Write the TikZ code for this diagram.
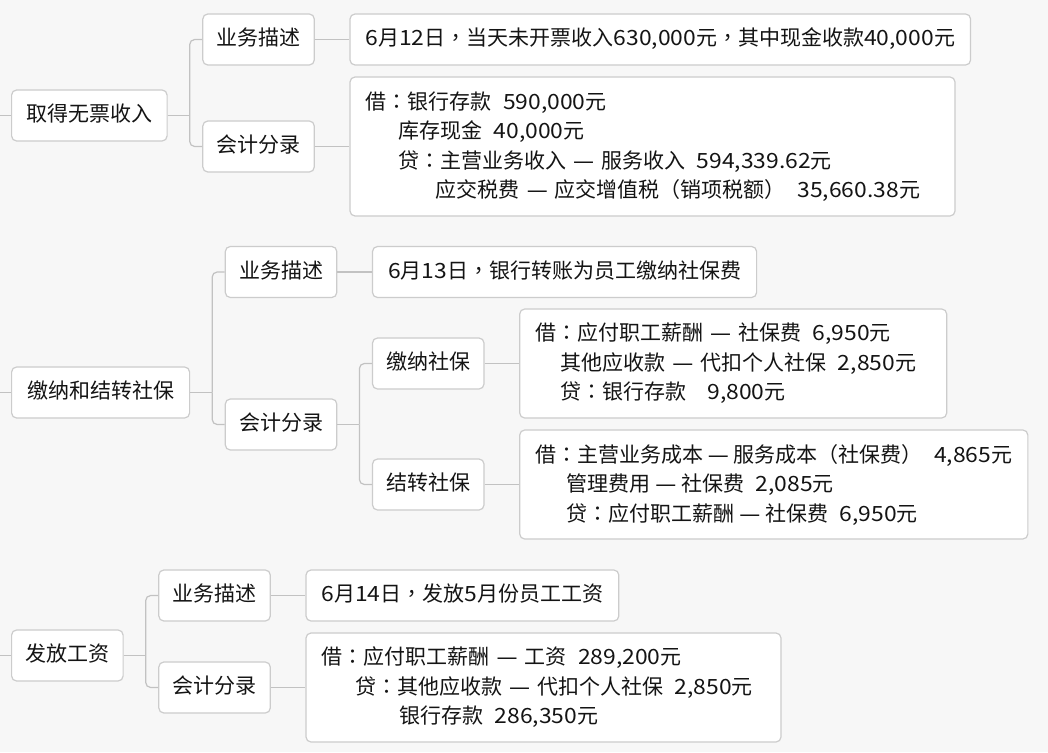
\documentclass[tikz,border=0pt]{standalone}
\usepackage{fontspec}
\setmainfont{Noto Sans CJK SC}
\newfontfamily\numf[FakeStretch=1.09]{Noto Sans CJK SC}
\newfontfamily\tcf{Noto Sans CJK TC}
\newfontfamily\dvf{DejaVu Sans}
\usepackage{tikz}
\usetikzlibrary{positioning}
\definecolor{mmbg}{HTML}{F7F7F7}
\definecolor{mmline}{HTML}{C2C2C2}
\definecolor{mmedge}{HTML}{CCCCCC}
\definecolor{mmtext}{HTML}{141414}
\newcommand{\amt}{\hspace{0.55em}}
\newcommand{\num}[1]{{\numf #1}}
\newcommand{\cl}{{\tcf ：}}
\newcommand{\cm}{{\tcf ，}}
\newcommand{\dsh}{{\dvf —}}
\tikzset{
  box/.style = {rectangle, rounded corners=5pt, draw=mmedge, line width=1.2pt,
                fill=white, inner xsep=15.5pt, text=mmtext,
                font=\fontsize{21}{29.5}\selectfont},
  lab/.style = {box, inner xsep=13.75pt, minimum height=51pt, text height=16pt, text depth=4pt},
  top/.style = {lab, inner xsep=14.75pt, anchor=west},
  ent/.style = {box, align=left, minimum height=109pt, inner ysep=3pt},
  br/.style  = {draw=mmline, line width=1.2pt},
  brr/.style = {br, rounded corners=5pt},
}

\begin{document}
\begin{tikzpicture}[node distance=34.5pt]
  \fill[mmbg] (0,0) rectangle (1048pt,-752pt);
  \useasboundingbox (0,0) rectangle (1048pt,-752pt);
  \coordinate (lft) at (0,0);

  \node[top] (inc) at (11pt,-115.5pt) {取得无票收入};
  \node[lab, right=of inc, yshift=76pt] (incd) {业务描述};
  \node[lab, right=of inc, yshift=-31pt] (ince) {会计分录};
  \node[lab, inner xsep=15.5pt, right=of incd] (incdt) {\num{6}月\num{12}日\cm 当天未开票收入\num{630,000}元\cm 其中现金收款\num{40,000}元};
  \node[ent, right=of ince, minimum height=139pt, text width=574pt] (incet) {借\cl 银行存款\amt\num{590,000}元\\
    \hspace*{1.55em}库存现金\amt\num{40,000}元\\
    \hspace*{1.55em}贷\cl 主营业务收入 \dsh{} 服务收入\amt\num{594,339.62}元\\
    \hspace*{3.35em}应交税费 \dsh{} 应交增值税（销项税额）\amt\num{35,660.38}元};

  \node[top, inner xsep=15.5pt] (ins) at (11pt,-392.5pt) {缴纳和结转社保};
  \node[lab, right=of ins, yshift=120.5pt] (insd) {业务描述};
  \node[lab, right=of ins, yshift=-32pt] (inse) {会计分录};
  \node[lab, inner xsep=15.5pt, right=of insd] (insdt) {\num{6}月\num{13}日\cm 银行转账为员工缴纳社保费};
  \node[lab, right=of inse, yshift=61pt] (pay) {缴纳社保};
  \node[lab, right=of inse, yshift=-60pt] (trf) {结转社保};
  \node[ent, right=of pay, text width=396pt] (payt) {借\cl 应付职工薪酬 \dsh{} 社保费\amt\num{6,950}元\\
    \hspace*{1.2em}其他应收款 \dsh{} 代扣个人社保\amt\num{2,850}元\\
    \hspace*{1.2em}贷\cl 银行存款\hspace{1em}\num{9,800}元};
  \node[ent, right=of trf] (trft) {借\cl 主营业务成本 \dsh{} 服务成本（社保费）\amt\num{4,865}元\\
    \hspace*{1.5em}管理费用 \dsh{} 社保费\amt\num{2,085}元\\
    \hspace*{1.5em}贷\cl 应付职工薪酬 \dsh{} 社保费\amt\num{6,950}元};

  \node[top, inner xsep=13.75pt] (wag) at (11pt,-655.5pt) {发放工资};
  \node[lab, right=of wag, yshift=60pt] (wagd) {业务描述};
  \node[lab, right=of wag, yshift=-32pt] (wage) {会计分录};
  \node[lab, inner xsep=15.5pt, right=of wagd] (wagdt) {\num{6}月\num{14}日\cm 发放\num{5}月份员工工资};
  \node[ent, right=of wage, text width=444pt] (waget) {借\cl 应付职工薪酬 \dsh{} 工资\amt\num{289,200}元\\
    \hspace*{1.6em}贷\cl 其他应收款 \dsh{} 代扣个人社保\amt\num{2,850}元\\
    \hspace*{3.7em}银行存款\amt\num{286,350}元};

  \foreach \r in {inc,ins,wag}
    \draw[br] (lft |- \r.west) -- (\r.west);
  \foreach \p/\c in {inc/incd, inc/ince, ins/insd, ins/inse, inse/pay, inse/trf, wag/wagd, wag/wage} {
    \draw[br] (\p.east) -- ++(22pt,0);
    \draw[brr] ([xshift=22pt]\p.east) |- (\c.west);
  }
  \foreach \a/\b in {incd/incdt, ince/incet, insd/insdt, pay/payt, trf/trft, wagd/wagdt, wage/waget}
    \draw[br] (\a) -- (\b);
\end{tikzpicture}
\end{document}
